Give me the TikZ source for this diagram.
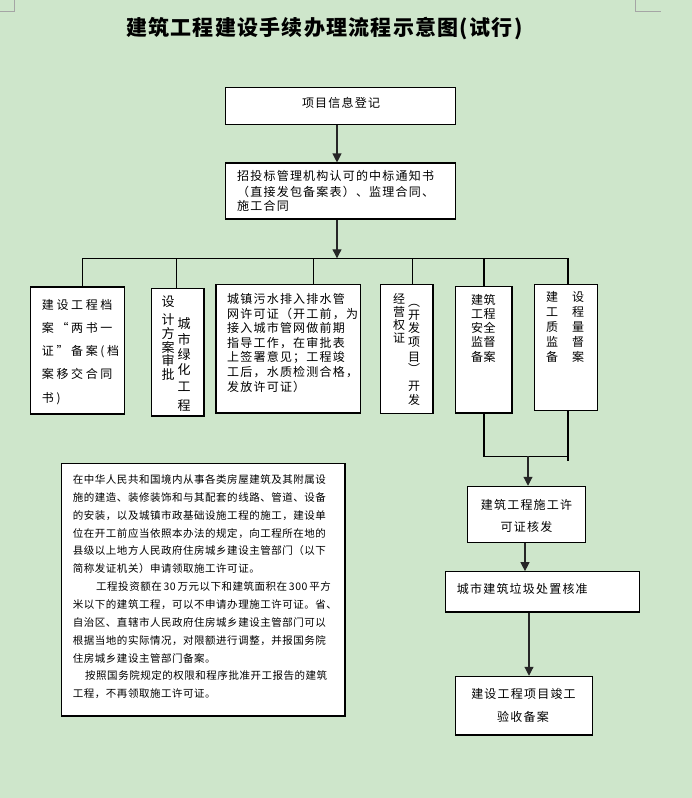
\documentclass[tikz,border=0pt]{standalone}
\usepackage{fontspec}
\setmainfont{Noto Sans CJK SC}
\newfontfamily\fA{Noto Sans CJK SC}[LetterSpace=10]
\newfontfamily\fW{Noto Sans CJK SC}[LetterSpace=22]
\newfontfamily\fS{Noto Sans CJK SC}[LetterSpace=5]
\newfontfamily\fT{Noto Sans CJK SC}[LetterSpace=6]
\usetikzlibrary{arrows.meta}
\definecolor{bg}{RGB}{206,230,203}
\definecolor{cmark}{RGB}{165,165,165}
\newcommand\mkbox[5]{\node[box,minimum width={#4-#2},minimum height={#5-#3}] (#1) at ({(#2+#4)/2},{(#3+#5)/2}) {};}
\begin{document}
\begin{tikzpicture}[x=1pt,y=-1pt,
  box/.style={draw=black,fill=white,line width=1.1pt,inner sep=0pt},
  ln/.style={draw=black,line width=1.1pt},
  arr/.style={draw=black!85,line width=1.1pt,-{Triangle[length=9pt,width=9pt]}},
  t12/.style={inner sep=0pt,font=\fA\fontsize{12}{12}\selectfont,text height=10pt,text depth=1pt},
  tw/.style={inner sep=0pt,font=\fW\fontsize{12}{12}\selectfont,text height=10pt,text depth=1pt},
  ts/.style={inner sep=0pt,font=\fS\fontsize{10.5}{10.5}\selectfont,text height=8.7pt,text depth=0.7pt,anchor=west},
  ch/.style={inner sep=0pt,font=\fontsize{12}{12}\selectfont,text height=10pt,text depth=1pt},
  chB/.style={inner sep=0pt,font=\fontsize{13}{13}\selectfont,text height=10.8pt,text depth=1pt},
]
\fill[bg] (0,0) rectangle (692,798);
\useasboundingbox (0,0) rectangle (692,798);

% page corner marks
\draw[draw=cmark,line width=0.8pt] (0,11) -- (14.5,11) -- (14.5,0);
\draw[draw=cmark,line width=0.8pt] (635.5,0) -- (635.5,11) -- (660.6,11);

% title
\node[inner sep=0pt,font=\fT\bfseries\fontsize{21}{21}\selectfont,text height=17.5pt,text depth=1.5pt] (title) at (324.3,27) {建筑工程建设手续办理流程示意图(试行)};

% boxes
\mkbox{B1}{225.5}{87.3}{455.4}{124.3}
\mkbox{B2}{225.5}{163}{455.4}{219}
\mkbox{A}{30.5}{287}{124.4}{414}
\mkbox{B}{151.5}{288.5}{204}{416}
\mkbox{C}{216}{284.3}{360.5}{413}
\mkbox{D}{380.5}{284.3}{433}{413.3}
\mkbox{E}{455.5}{286.3}{512}{413}
\mkbox{F}{534.4}{284.3}{597.5}{410.3}
\mkbox{G}{467.3}{486.3}{585.3}{542.3}
\mkbox{H}{445.3}{571.7}{639.3}{612}
\mkbox{I}{455.3}{676.3}{592.3}{735}
\mkbox{T}{61.7}{463.3}{345}{716}

% connectors top
\coordinate (a1) at (337,0);
\draw[arr] (B1.south -| a1) -- (B2.north -| a1);
\coordinate (bar) at (337,258.3);
\draw[arr] (B2.south -| a1) -- (bar);
\coordinate (barL) at (82.5,258.3);
\coordinate (barR) at (568,258.3);
\draw[ln] (barL) -- (barR);
\foreach \n/\x in {A/82.5,B/176.5,C/313.3,D/412.6,E/484,F/568}{
  \coordinate (v\n) at (\x,258.3);
  \draw[ln] (v\n) -- (v\n |- \n.north);
}

% connectors bottom
\coordinate (jE) at (484,456.3);
\coordinate (jF) at (568,456.3);
\coordinate (jF2) at (568,460.7);
\draw[ln] (E.south -| jE) -- (jE) -- (jF);
\draw[ln] (F.south -| jF) -- (jF2);
\coordinate (jG) at (528,456.3);
\draw[arr] (jG) -- (G.north -| jG);
\coordinate (aG) at (525,0);
\draw[arr] (G.south -| aG) -- (H.north -| aG);
\coordinate (aH) at (529,0);
\draw[arr] (H.south -| aH) -- (I.north -| aH);

% texts
\node[t12] (t1) at (341,103) {项目信息登记};
\node[t12,anchor=west] (t2a) at (237,176) {招投标管理机构认可的中标通知书};
\node[t12,anchor=west] (t2b) at (237,191.5) {（直接发包备案表）、监理合同、};
\node[t12,anchor=west] (t2c) at (237,206) {施工合同};

\node[tw,anchor=west] (tA1) at (41.7,305) {建设工程档};
\node[tw,anchor=west] (tA2) at (41.7,328) {案“两书一};
\node[tw,anchor=west] (tA3) at (41.7,351) {证”备案(档};
\node[tw,anchor=west] (tA4) at (41.7,374) {案移交合同};
\node[tw,anchor=west] (tA5) at (41.7,398) {书)};

\foreach \c/\y [count=\i] in {设/302,计/320,方/334,案/348,审/361,批/375}
  \node[chB] (bL\i) at (168,\y) {\c};
\foreach \c/\y [count=\i] in {城/324,市/340,绿/355,化/370,工/387,程/406}
  \node[chB] (bR\i) at (184,\y) {\c};

\node[t12,anchor=west] (tC1) at (227,299) {城镇污水排入排水管};
\node[t12,anchor=west] (tC2) at (227,313.6) {网许可证（开工前，为};
\node[t12,anchor=west] (tC3) at (227,328.2) {接入城市管网做前期};
\node[t12,anchor=west] (tC4) at (227,342.8) {指导工作，在审批表};
\node[t12,anchor=west] (tC5) at (227,357.4) {上签署意见；工程竣};
\node[t12,anchor=west] (tC6) at (227,372) {工后，水质检测合格，};
\node[t12,anchor=west] (tC7) at (227,386.6) {发放许可证）};

\foreach \c/\y [count=\i] in {经/299,营/312,权/325,证/338}
  \node[ch] (dL\i) at (399,\y) {\c};
\foreach \c/\y [count=\i] in {︵/302,开/315,发/328,项/342,目/357,︶/369,开/386,发/400}
  \node[ch] (dR\i) at (414,\y) {\c};

\foreach \a/\b/\y [count=\i] in {建/筑/300,工/程/314,安/全/327.5,监/督/342,备/案/357}{
  \node[ch] (eL\i) at (477,\y) {\a};
  \node[ch] (eR\i) at (489.5,\y) {\b};
}
\foreach \a/\b/\y [count=\i] in {建/设/297,工/程/312,质/量/327,监/督/342,备/案/357}{
  \node[ch] (fL\i) at (552,\y) {\a};
  \node[ch] (fR\i) at (578,\y) {\b};
}

\node[t12] (tG1) at (526.5,505) {建筑工程施工许};
\node[t12] (tG2) at (526.5,527) {可证核发};
\node[t12,anchor=west] (tH1) at (456.7,589) {城市建筑垃圾处置核准};
\node[t12] (tI1) at (523.5,694) {建设工程项目竣工};
\node[t12] (tI2) at (523,717) {验收备案};

\node[ts] (s1) at (72.7,479.5) {在中华人民共和国境内从事各类房屋建筑及其附属设};
\node[ts] (s2) at (72.7,497.4) {施的建造、装修装饰和与其配套的线路、管道、设备};
\node[ts] (s3) at (72.7,515.2) {的安装，以及城镇市政基础设施工程的施工，建设单};
\node[ts] (s4) at (72.7,533.1) {位在开工前应当依照本办法的规定，向工程所在地的};
\node[ts] (s5) at (72.7,550.9) {县级以上地方人民政府住房城乡建设主管部门（以下};
\node[ts] (s6) at (72.7,568.8) {简称发证机关）申请领取施工许可证。};
\node[ts] (s7) at (96,586.6) {工程投资额在\,30\,万元以下和建筑面积在\,300\,平方};
\node[ts] (s8) at (72.7,604.5) {米以下的建筑工程，可以不申请办理施工许可证。省、};
\node[ts] (s9) at (72.7,622.3) {自治区、直辖市人民政府住房城乡建设主管部门可以};
\node[ts] (s10) at (72.7,640.2) {根据当地的实际情况，对限额进行调整，并报国务院};
\node[ts] (s11) at (72.7,658) {住房城乡建设主管部门备案。};
\node[ts] (s12) at (85,675.9) {按照国务院规定的权限和程序批准开工报告的建筑};
\node[ts] (s13) at (72.7,693.7) {工程，不再领取施工许可证。};
\end{tikzpicture}
\end{document}
